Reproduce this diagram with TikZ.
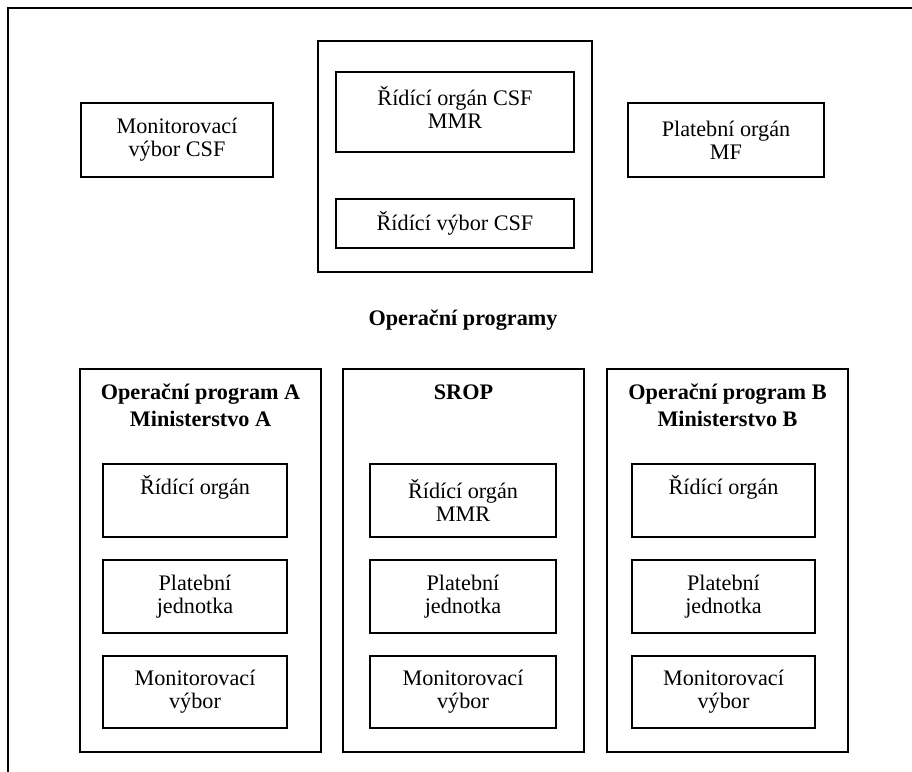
\documentclass[tikz,border=0pt]{standalone}
\usepackage{fontspec}
\setmainfont{Liberation Serif}
\usetikzlibrary{fit,calc}
\tikzset{
  x=0.5pt, y=-0.5pt,
  box/.style={draw, line width=0.8pt, inner sep=0pt, fit={#1}},
  txt/.style={align=center, inner sep=0pt, font=\fontsize{11.1}{11.5}\selectfont},
  head/.style={align=center, inner sep=0pt, font=\bfseries\fontsize{11.1}{13.5}\selectfont},
}
\begin{document}
\begin{tikzpicture}
\useasboundingbox (0,0) rectangle (912,772);
% frame
\coordinate (fb) at (8,772);
\coordinate (ftl) at (8,8);
\coordinate (fr) at (912,8);
\draw[line width=1pt] (fb) -- (ftl) -- (fr);

% top row
\node[box={(81,103) (273,177)}] (mon) {};
\node[txt] (monT) at (mon.center) {Monitorovací\\výbor CSF};
\node[box={(318,41) (592,272)}] (ctr) {};
\node[box={(336,72) (574,152)}] (ro) {};
\node[txt] (roT) at ($(ro.north)+(0,36)$) {Řídící orgán CSF\\MMR};
\node[box={(336,199) (574,248)}] (rv) {};
\node[txt] (rvT) at (rv.center) {Řídící výbor CSF};
\node[box={(628,103) (824,177)}] (pl) {};
\node[txt] (plT) at (pl.center) {Platební orgán\\MF};

\node[head] (title) at (463,320) {Operační programy};

% columns
\node[box={(80,369) (321,752)}] (opA) {};
\node[head] (opAT) at ($(opA.north)+(0,37)$) {Operační program A\\Ministerstvo A};
\node[box={(343,369) (584,752)}] (srop) {};
\node[head] (sropT) at ($(srop.north)+(0,24)$) {SROP};
\node[box={(607,369) (848,752)}] (opB) {};
\node[head] (opBT) at ($(opB.north)+(0,37)$) {Operační program B\\Ministerstvo B};

% column A
\node[box={(103,464) (287,537)}] (aR) {};
\node[txt] (aRT) at ($(aR.north)+(0,24)$) {Řídící orgán};
\node[box={(103,560) (287,633)}] (aP) {};
\node[txt] (aPT) at (aP.center) {Platební\\jednotka};
\node[box={(103,656) (287,728)}] (aM) {};
\node[txt] (aMT) at (aM.center) {Monitorovací\\výbor};

% column SROP
\node[box={(370,464) (556,537)}] (sR) {};
\node[txt] (sRT) at (sR.center) {Řídící orgán\\MMR};
\node[box={(370,560) (556,633)}] (sP) {};
\node[txt] (sPT) at (sP.center) {Platební\\jednotka};
\node[box={(370,656) (556,728)}] (sM) {};
\node[txt] (sMT) at (sM.center) {Monitorovací\\výbor};

% column B
\node[box={(632,464) (815,537)}] (bR) {};
\node[txt] (bRT) at ($(bR.north)+(0,24)$) {Řídící orgán};
\node[box={(632,560) (815,633)}] (bP) {};
\node[txt] (bPT) at (bP.center) {Platební\\jednotka};
\node[box={(632,656) (815,728)}] (bM) {};
\node[txt] (bMT) at (bM.center) {Monitorovací\\výbor};
\end{tikzpicture}
\end{document}
